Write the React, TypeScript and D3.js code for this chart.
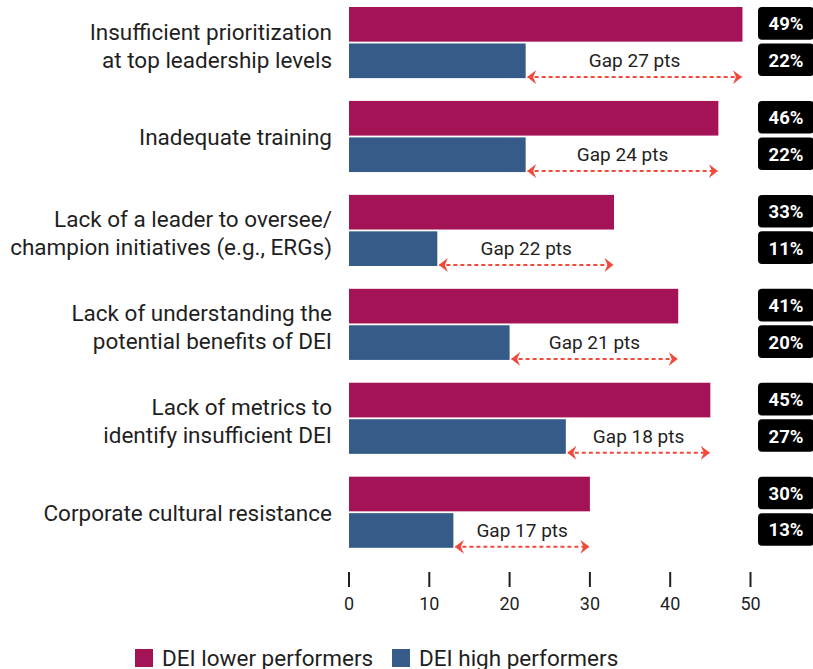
import React from 'react';
import * as d3 from 'd3';

// categories (each entry = lines of the label)
const categories = [
  ['Insufficient prioritization', 'at top leadership levels'],
  ['Inadequate training'],
  ['Lack of a leader to oversee/', 'champion initiatives (e.g., ERGs)'],
  ['Lack of understanding the', 'potential benefits of DEI'],
  ['Lack of metrics to', 'identify insufficient DEI'],
  ['Corporate cultural resistance'],
];
const lowerPerformers = [49, 46, 33, 41, 45, 30];
const highPerformers = [22, 22, 11, 20, 27, 13];
const gapPoints = [27, 24, 22, 21, 18, 17];
const seriesNames = ['DEI lower performers', 'DEI high performers'];
const xTicks = [0, 10, 20, 30, 40, 50];

const MAGENTA = '#a51357';
const BLUE = '#365b89';
const RED = '#f04a3c';
const INK = '#1f1f1f';
const FONT = 'Roboto, "Noto Sans", sans-serif';

export default function App() {
  const width = 813;
  const height = 669;

  const x = d3.scaleLinear().domain([0, 50]).range([349, 750.5]);

  const keys = categories.map((_, i) => String(i));
  const y = d3.scaleBand().domain(keys).range([7, 547.8]).paddingInner(0.243).paddingOuter(0);
  const inner = d3.scaleBand().domain(['lower', 'high']).range([0, y.bandwidth()]).paddingInner(0.05);

  const rows = categories.map((lines, i) => ({
    key: keys[i],
    lines,
    lower: lowerPerformers[i],
    high: highPerformers[i],
    gap: gapPoints[i],
  }));

  return (
    <svg width={width} height={height} viewBox={`0 0 ${width} ${height}`}
      style={{ display: 'block', position: 'absolute', left: 0, top: 0, background: '#fff' }}
      fontFamily={FONT}>
      <defs>
        <marker id="arrowHead" viewBox="0 -7 9 14" refX={8.5} refY={0}
          markerWidth={9} markerHeight={14} markerUnits="userSpaceOnUse" orient="auto-start-reverse">
          <path d="M0,-7 L9,0 L0,7 L3,0 Z" fill={RED} />
        </marker>
      </defs>

      {rows.map(r => {
        const gy = y(r.key) as number;
        const yLow = gy + (inner('lower') as number);
        const yHigh = gy + (inner('high') as number);
        const bh = inner.bandwidth();
        const cy = gy + y.bandwidth() / 2 + (r.lines.length > 1 ? 3 : 1);
        const lineH = 28;
        const arrowY = yHigh + bh - 1;
        const x1 = x(r.high) + 2;
        const x2 = x(r.lower) - 1;
        return (
          <g key={r.key}>
            {r.lines.map((ln, j) => (
              <text key={j} x={332} y={cy + (j - (r.lines.length - 1) / 2) * lineH}
                textAnchor="end" dominantBaseline="central" fontSize={22.5} fill={INK}>{ln}</text>
            ))}
            <rect x={x(0)} y={yLow} width={x(r.lower) - x(0)} height={bh} fill={MAGENTA} />
            <rect x={x(0)} y={yHigh} width={x(r.high) - x(0)} height={bh} fill={BLUE} />

            <line x1={x1} x2={x2} y1={arrowY} y2={arrowY} stroke={RED} strokeWidth={2}
              strokeDasharray="4 3" markerStart="url(#arrowHead)" markerEnd="url(#arrowHead)" />
            <text x={(x1 + x2) / 2} y={yHigh + bh / 2} textAnchor="middle" dominantBaseline="central"
              fontSize={19} fill={INK}>{`Gap ${r.gap} pts`}</text>

            <rect x={758} y={yLow} width={56} height={bh - 2} rx={4} fill="#000" />
            <text x={786} y={yLow + (bh - 2) / 2 + 1} textAnchor="middle" dominantBaseline="central"
              fontSize={18.5} fontWeight={700} fill="#fff">{`${r.lower}%`}</text>
            <rect x={758} y={yHigh} width={56} height={bh - 2} rx={4} fill="#000" />
            <text x={786} y={yHigh + (bh - 2) / 2 + 1} textAnchor="middle" dominantBaseline="central"
              fontSize={18.5} fontWeight={700} fill="#fff">{`${r.high}%`}</text>
          </g>
        );
      })}

      {/* x axis: ticks only, no domain line */}
      {xTicks.map(t => (
        <g key={t}>
          <line x1={x(t)} x2={x(t)} y1={572} y2={587} stroke={INK} strokeWidth={2} />
          <text x={x(t)} y={603} textAnchor="middle" dominantBaseline="central" fontSize={18} fill={INK}>{t}</text>
        </g>
      ))}

      {/* legend */}
      <g>
        <rect x={135} y={649} width={18} height={18} fill={MAGENTA} />
        <text x={162} y={658} dominantBaseline="central" fontSize={22.5} fill={INK}>{seriesNames[0]}</text>
        <rect x={392} y={649} width={18} height={18} fill={BLUE} />
        <text x={419} y={658} dominantBaseline="central" fontSize={22.5} fill={INK}>{seriesNames[1]}</text>
      </g>
    </svg>
  );
}
